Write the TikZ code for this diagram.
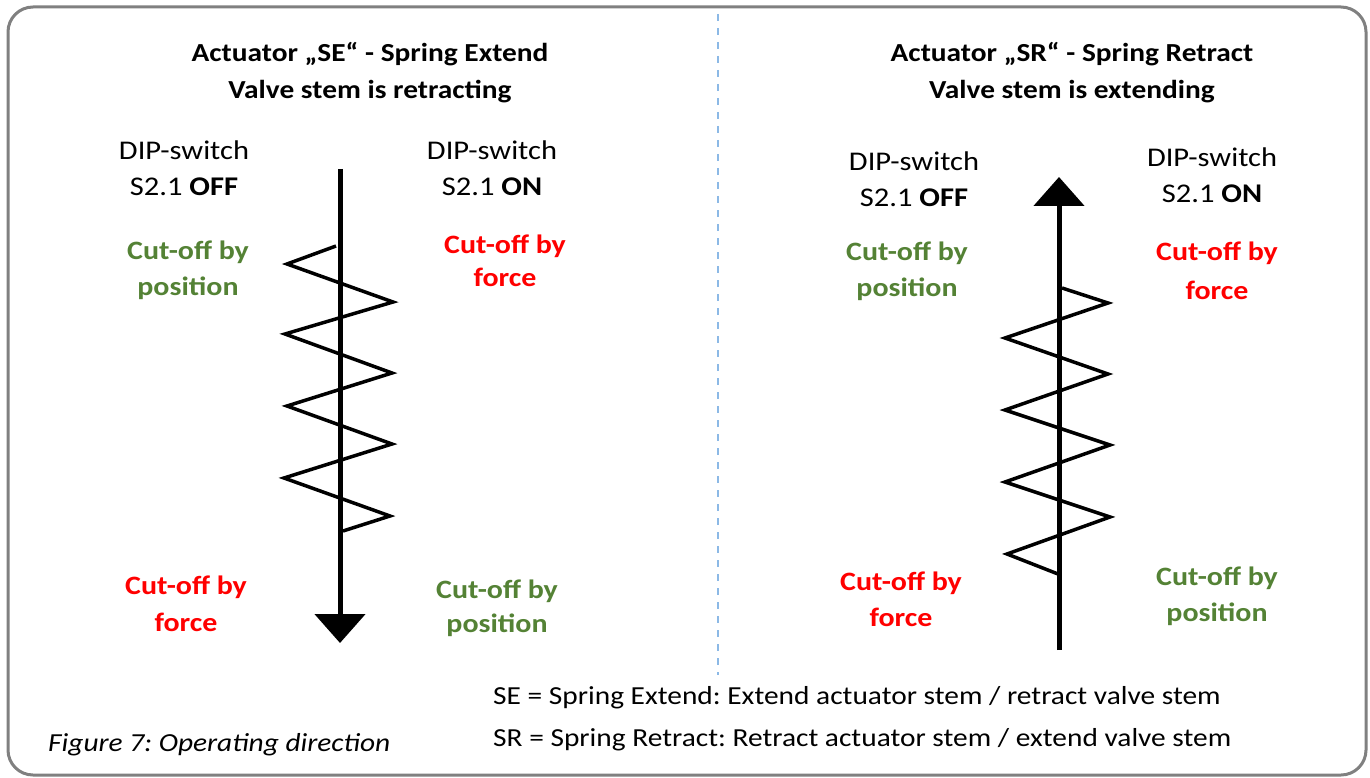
\documentclass[tikz,border=0pt]{standalone}
\usepackage{fontspec}
\setmainfont{Carlito}[FakeStretch=1.13]
\frenchspacing
\usetikzlibrary{arrows.meta}
\definecolor{grn}{RGB}{84,130,53}
\definecolor{rd}{RGB}{255,0,0}
\definecolor{frame}{RGB}{128,128,128}
\definecolor{dashblue}{RGB}{140,185,230}
\begin{document}
\begin{tikzpicture}[x=1pt,y=-1pt,
  lbl/.style={align=center,inner sep=0pt,font=\fontsize{27}{36}\selectfont},
  ttl/.style={align=center,inner sep=0pt,font=\bfseries\fontsize{26}{37}\selectfont},
  good/.style={lbl,text=grn,font=\bfseries\fontsize{26.5}{36}\selectfont},
  bad/.style={lbl,text=rd,font=\bfseries\fontsize{26.5}{36}\selectfont},
  stem/.style={line width=5pt,-{Triangle[width=50pt,length=29pt]}},
  spring/.style={line width=3.5pt,line join=miter},
  note/.style={anchor=west,inner sep=0pt,font=\fontsize{26}{36}\selectfont}]
\useasboundingbox (0,0) rectangle (1370,778);
\draw[frame,line width=3pt,rounded corners=25pt] (8,7) rectangle (1366,775);
\coordinate (dtop) at (718,14);
\coordinate (dbot) at (718,675);
\draw[dashblue,line width=2pt,dash pattern=on 7pt off 7pt] (dtop) -- (dbot);
% titles
\node[ttl] (t1) at (370,73) {Actuator „SE“ - Spring Extend\\Valve stem is retracting};
\node[ttl] (t2) at (1072,73) {Actuator „SR“ - Spring Retract\\Valve stem is extending};
% left panel
\node[lbl] (d1) at (184,168) {DIP-switch\\S2.1 \textbf{OFF}};
\node[lbl] (d2) at (492,168) {DIP-switch\\S2.1 \textbf{ON}};
\node[good] (g1) at (188,270) {Cut-off by\\position};
\node[bad,font=\bfseries\fontsize{26.5}{33}\selectfont] (r1) at (505,261) {Cut-off by\\force};
\node[bad,font=\bfseries\fontsize{26.5}{37}\selectfont] (r2) at (186,604) {Cut-off by\\force};
\node[good,font=\bfseries\fontsize{26.5}{34}\selectfont] (g2) at (497,608) {Cut-off by\\position};
% right panel
\node[lbl] (d3) at (914,179) {DIP-switch\\S2.1 \textbf{OFF}};
\node[lbl] (d4) at (1212,175) {DIP-switch\\S2.1 \textbf{ON}};
\node[good] (g3) at (907,271) {Cut-off by\\position};
\node[bad,font=\bfseries\fontsize{26.5}{39}\selectfont] (r3) at (1217,271) {Cut-off by\\force};
\node[bad] (r4) at (901,599) {Cut-off by\\force};
\node[good] (g4) at (1217,596) {Cut-off by\\position};
% left stem and spring
\coordinate (a1) at (340,169);
\coordinate (b1) at (340,643);
\draw[stem] (a1) -- (b1);
\draw[spring] (336,246) -- (287,264) -- (393,302) -- (285,334) -- (392,373) -- (287,406) -- (392,444) -- (284,478) -- (390,516) -- (343,531);
% right stem and spring
\coordinate (a2) at (1059,650);
\coordinate (b2) at (1059,177);
\draw[stem] (a2) -- (b2);
\draw[spring] (1062,288) -- (1108,303) -- (1005,338) -- (1108,374) -- (1005,410) -- (1110,445) -- (1005,482) -- (1110,517) -- (1007,554) -- (1058,574);
% notes
\node[note] (n1) at (493,698) {SE = Spring Extend: Extend actuator stem / retract valve stem};
\node[note] (n2) at (493,740) {SR = Spring Retract: Retract actuator stem / extend valve stem};
\node[note,font=\itshape\fontsize{26}{36}\selectfont] (cap) at (48,745) {Figure 7: Operating direction};
\end{tikzpicture}
\end{document}
